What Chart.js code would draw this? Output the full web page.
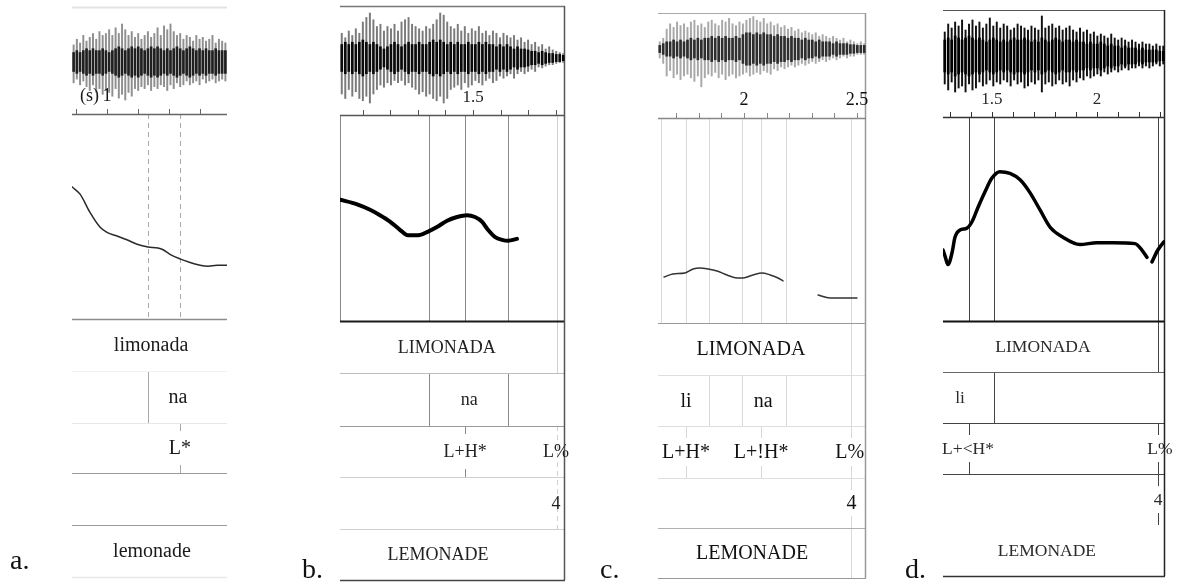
<!DOCTYPE html>
<html>
<head>
<meta charset="utf-8">
<script src="https://cdn.jsdelivr.net/npm/chart.js"></script>
<style>
  html, body { margin: 0; background: #fff; }
  #wrap { position: relative; width: 1180px; height: 586px; overflow: hidden; background: #fff; }
  #wrap canvas { position: absolute; left: 0; top: 0; }
</style>
</head>
<body>
<div id="wrap">
  <canvas id="pa" width="1180" height="586"></canvas>
  <canvas id="pb" width="1180" height="586"></canvas>
  <canvas id="pc" width="1180" height="586"></canvas>
  <canvas id="pd" width="1180" height="586"></canvas>
</div>
<script>
// ---- a. limonada (broad focus) ----
const aTicks = [0.9, 1.0, 1.1, 1.2, 1.3];
const aTickLabels = [[1.0, '1']];
const aWaveHi = [0.45,0.6,0.5,0.7,0.55,0.65,0.75,0.6,0.8,0.7,0.75,0.85,0.7,0.9,0.75,1.0,0.85,0.7,0.8,0.65,0.75,0.6,0.7,0.8,0.65,0.75,0.9,0.7,0.95,0.85,1.0,0.8,0.7,0.75,0.6,0.7,0.65,0.55,0.7,0.6,0.65,0.55,0.6,0.7,0.5,0.6,0.55,0.5];
const aWaveLo = [-0.55,-0.45,-0.6,-0.5,-0.65,-0.75,-0.6,-0.8,-0.7,-0.85,-0.75,-0.8,-0.9,-0.7,-0.95,-0.85,-1.0,-0.8,-0.9,-0.7,-0.75,-0.65,-0.7,-0.6,-0.75,-0.65,-0.7,-0.6,-0.65,-0.75,-0.6,-0.7,-0.55,-0.65,-0.6,-0.5,-0.6,-0.55,-0.5,-0.6,-0.45,-0.55,-0.5,-0.45,-0.55,-0.5,-0.45,-0.5];
const aWaveCore = [0.25,0.3,0.25,0.3,0.35,0.3,0.35,0.3,0.3,0.35,0.3,0.25,0.3,0.35,0.4,0.35,0.3,0.35,0.4,0.35,0.4,0.35,0.3,0.35,0.4,0.35,0.4,0.35,0.3,0.35,0.3,0.35,0.4,0.35,0.3,0.35,0.4,0.35,0.3,0.35,0.3,0.35,0.3,0.3,0.35,0.3,0.3,0.3];
const aF0Time = [0.887,0.913,0.945,0.977,1.0,1.032,1.064,1.097,1.132,1.164,1.181,1.203,1.235,1.268,1.300,1.326,1.355,1.387];
const aF0Hz = [220,212,192,176,170,166,162,157,154,153,151,146,141,137,134,133,134,134];
// [row, time, text]
const aLabels = [[0, 1.142, 'limonada'], [1, 1.229, 'na'], [2, 1.235, 'L*'], [4, 1.145, 'lemonade']];
// [fromRow, toRow, time, kind]  (row -1 = pitch area)
const aMarks = [[-1, -1, 1.132, 'dash'], [-1, -1, 1.235, 'dash'], [1, 1, 1.132, 'line'], [2, 2, 1.235, 'tick']];

// ---- b. LIMONADA (contrastive) ----
const bTicks = [1.1, 1.2, 1.3, 1.4, 1.5, 1.6, 1.7, 1.8];
const bTickLabels = [[1.5, '1.5']];
const bWaveHi = [0.55,0.45,0.6,0.5,0.65,0.55,0.8,0.9,1.0,0.85,0.7,0.75,0.6,0.7,0.65,0.75,0.6,0.8,0.85,0.9,0.75,0.7,0.65,0.6,0.7,0.65,0.75,0.85,1.0,0.95,0.8,0.7,0.65,0.75,0.6,0.7,0.55,0.65,0.6,0.7,0.55,0.6,0.5,0.6,0.55,0.45,0.55,0.5,0.45,0.5,0.4,0.45,0.35,0.4,0.3,0.35,0.25,0.3,0.2,0.25,0.18,0.15,0.12,0.1];
const bWaveLo = [-0.8,-0.9,-0.7,-0.85,-0.75,-0.9,-0.95,-0.85,-1.0,-0.8,-0.7,-0.6,-0.65,-0.55,-0.6,-0.5,-0.55,-0.5,-0.6,-0.55,-0.65,-0.7,-0.8,-0.75,-0.85,-0.8,-0.9,-0.95,-0.85,-1.0,-0.9,-0.7,-0.65,-0.6,-0.7,-0.55,-0.65,-0.6,-0.5,-0.55,-0.6,-0.5,-0.45,-0.55,-0.5,-0.4,-0.45,-0.4,-0.35,-0.45,-0.35,-0.3,-0.35,-0.3,-0.25,-0.3,-0.2,-0.22,-0.18,-0.15,-0.15,-0.12,-0.1,-0.1];
const bWaveCore = [0.3,0.35,0.3,0.35,0.3,0.35,0.4,0.35,0.3,0.35,0.3,0.25,0.2,0.25,0.3,0.35,0.3,0.25,0.3,0.35,0.3,0.3,0.35,0.3,0.3,0.35,0.4,0.35,0.4,0.35,0.3,0.35,0.3,0.35,0.3,0.3,0.35,0.3,0.3,0.35,0.3,0.35,0.3,0.3,0.25,0.3,0.25,0.3,0.25,0.2,0.25,0.2,0.2,0.18,0.15,0.15,0.12,0.15,0.12,0.1,0.1,0.08,0.08,0.06];
const bF0Time = [1.018,1.080,1.127,1.163,1.199,1.235,1.264,1.301,1.337,1.369,1.406,1.442,1.478,1.507,1.532,1.554,1.580,1.605,1.627,1.659];
const bF0Hz = [207,202,196,190,183,174,168,168,172,177,184,188,190,188,183,174,166,163,162,164];
const bLabels = [[0, 1.405, 'LIMONADA'], [1, 1.486, 'na'], [2, 1.471, 'L+H*'], [2, 1.800, 'L%'], [3, 1.800, '4'], [4, 1.373, 'LEMONADE']];
const bMarks = [[-1, -1, 1.340, 'line'], [-1, -1, 1.471, 'line'], [-1, -1, 1.627, 'line'], [-1, 0, 1.804, 'faint'],
                [1, 1, 1.340, 'line'], [1, 1, 1.627, 'line'], [2, 2, 1.471, 'tick'], [2, 3, 1.804, 'fdash']];

// ---- c. LIMONADA (two accents) ----
const cTicks = [1.7, 1.8, 1.9, 2.0, 2.1, 2.2, 2.3, 2.4, 2.5];
const cTickLabels = [[2.0, '2'], [2.5, '2.5']];
const cWaveHi = [0.2,0.3,0.55,0.7,0.6,0.75,0.65,0.7,0.6,0.75,0.8,0.65,0.7,0.6,0.75,0.8,0.7,0.65,0.8,0.75,0.85,0.7,0.65,0.75,0.7,0.8,0.85,0.9,0.8,0.75,0.85,0.7,0.75,0.65,0.7,0.6,0.65,0.55,0.6,0.5,0.55,0.45,0.5,0.45,0.4,0.45,0.35,0.4,0.35,0.3,0.35,0.3,0.25,0.3,0.2,0.25,0.2,0.15,0.2,0.15];
const cWaveLo = [-0.25,-0.4,-0.75,-0.6,-0.8,-0.7,-0.85,-0.75,-0.7,-0.8,-0.9,-0.75,-1.05,-0.8,-0.7,-0.75,-0.65,-0.8,-0.7,-0.85,-0.75,-0.7,-0.8,-0.75,-0.7,-0.65,-0.75,-0.7,-0.65,-0.7,-0.6,-0.65,-0.7,-0.55,-0.6,-0.5,-0.55,-0.5,-0.45,-0.5,-0.45,-0.4,-0.45,-0.4,-0.35,-0.4,-0.35,-0.3,-0.35,-0.3,-0.25,-0.3,-0.25,-0.2,-0.25,-0.2,-0.2,-0.15,-0.15,-0.15];
const cWaveCore = [0.1,0.15,0.2,0.2,0.25,0.2,0.25,0.2,0.25,0.3,0.25,0.3,0.25,0.3,0.3,0.35,0.3,0.35,0.3,0.35,0.3,0.3,0.35,0.3,0.4,0.45,0.45,0.4,0.45,0.4,0.45,0.4,0.4,0.35,0.4,0.35,0.35,0.3,0.35,0.3,0.3,0.25,0.3,0.25,0.25,0.2,0.25,0.2,0.2,0.2,0.15,0.2,0.15,0.15,0.15,0.12,0.12,0.1,0.1,0.1];
const cF0Time = [1.647,1.686,1.739,1.775,1.806,1.841,1.881,1.925,1.970,1.996,2.040,2.080,2.116,2.151,2.173,2.250,2.328,2.381,2.439,2.500];
const cF0Hz = [125.5,128.8,129.9,134.3,135.4,134.3,132.1,127.7,124.4,124.4,127.7,129.9,127.7,124.4,121.1,null,105.7,102.4,102.4,102.4];
const cLabels = [[0, 2.031, 'LIMONADA'], [1, 1.744, 'li'], [1, 2.085, 'na'], [2, 1.744, 'L+H*'], [2, 2.076, 'L+!H*'],
                 [2, 2.468, 'L%'], [3, 2.476, '4'], [4, 2.036, 'LEMONADE']];
const cMarks = [[-1, -1, 1.633, 'faint'], [-1, -1, 1.744, 'faint'], [-1, -1, 1.846, 'faint'], [-1, -1, 1.992, 'faint'],
                [-1, -1, 2.076, 'faint'], [-1, -1, 2.186, 'faint'], [-1, 1, 2.474, 'faint'], [2, 3, 2.474, 'ftick'], [4, 4, 2.474, 'faint'],
                [1, 1, 1.846, 'faint'], [1, 1, 1.992, 'faint'], [1, 1, 2.186, 'faint'], [2, 2, 1.744, 'ftick'], [2, 2, 2.076, 'ftick']];

// ---- d. LIMONADA (early peak) ----
const dTicks = [1.3, 1.4, 1.5, 1.6, 1.7, 1.8, 1.9, 2.0, 2.1, 2.2, 2.3];
const dTickLabels = [[1.5, '1.5'], [2.0, '2']];
const dWaveHi = [0.6,0.8,0.7,0.85,0.75,0.9,0.65,0.8,0.9,0.75,0.85,0.7,0.8,0.95,0.75,0.85,0.7,0.8,0.75,0.65,0.7,0.8,0.75,0.7,0.65,0.75,0.7,0.65,1.0,0.7,0.75,0.8,0.7,0.75,0.65,0.7,0.75,0.65,0.6,0.7,0.6,0.65,0.55,0.6,0.5,0.55,0.5,0.45,0.55,0.45,0.4,0.45,0.4,0.35,0.4,0.35,0.3,0.35,0.3,0.3,0.25,0.3,0.25,0.25];
const dWaveLo = [-0.7,-0.85,-0.65,-0.9,-0.8,-0.75,-0.9,-0.7,-0.85,-0.8,-0.65,-0.75,-0.7,-0.6,-0.75,-0.65,-0.7,-0.6,-0.65,-0.75,-0.6,-0.7,-0.65,-0.8,-0.75,-0.65,-0.7,-0.6,-0.9,-0.7,-0.65,-0.75,-0.7,-0.6,-0.7,-0.65,-0.75,-0.6,-0.65,-0.55,-0.6,-0.5,-0.55,-0.5,-0.45,-0.5,-0.4,-0.45,-0.4,-0.35,-0.4,-0.35,-0.3,-0.35,-0.3,-0.3,-0.25,-0.3,-0.25,-0.3,-0.25,-0.2,-0.25,-0.2];
const dWaveCore = [0.4,0.45,0.4,0.5,0.45,0.4,0.45,0.5,0.45,0.4,0.45,0.4,0.35,0.4,0.45,0.4,0.35,0.4,0.35,0.4,0.45,0.4,0.4,0.45,0.4,0.35,0.4,0.35,0.45,0.4,0.35,0.4,0.45,0.4,0.35,0.4,0.4,0.35,0.4,0.35,0.35,0.3,0.35,0.3,0.3,0.35,0.3,0.25,0.3,0.25,0.25,0.2,0.25,0.2,0.2,0.2,0.15,0.2,0.15,0.15,0.15,0.15,0.12,0.12];
const dF0Time = [1.267,1.277,1.286,1.291,1.310,1.324,1.348,1.381,1.405,1.434,1.467,1.500,1.538,1.586,1.634,1.681,1.729,1.777,1.838,1.919,2.000,2.077,2.181,2.214,2.238,2.250,2.262,2.290,2.319];
const dF0Hz = [154,147,140,138,151,168,176,178,185,201,218,233,240,238,231,217,198,179,168,160,162,162,161,154,146,null,141,154,163];
const dLabels = [[0, 1.743, 'LIMONADA'], [1, 1.348, 'li'], [2, 1.386, 'L+<H*'], [2, 2.300, 'L%'], [3, 2.291, '4'], [4, 1.762, 'LEMONADE']];
const dMarks = [[-1, 0, 2.291, 'line'], [-1, -1, 1.391, 'line'], [-1, -1, 1.510, 'line'], [1, 1, 1.510, 'line'],
                [2, 2, 1.391, 'tick'], [2, 3, 2.291, 'tick']];

// pitch scale shared by all panels: 300 Hz sits on the time axis line
const F0_REF_HZ = 300;
const PX_PER_HZ = 0.911;
const SERIF = '"Liberation Serif", "DejaVu Serif", serif';

const panels = [
  { id: 'pa', letter: 'a.', letterAt: [10, 569], range: [0.887, 1.387], box: [72, 7, 227], axisY: 114,
    rows: [319, 371, 423, 473, 525, 577], waveMid: 62, waveHalf: 38, unit: '(s)',
    ticks: aTicks, tickLabels: aTickLabels, waveHi: aWaveHi, waveLo: aWaveLo, waveCore: aWaveCore,
    f0Time: aF0Time, f0Hz: aF0Hz, labels: aLabels, marks: aMarks,
    style: { wave: '#8f8f8f', core: '#202020', f0: '#2a2a2a', f0Width: 1.5, axis: '#666', topLine: '#e4e4e4', topWidth: 2,
             rightLine: null, boxLeft: null, line: '#a8a8a8', faint: '#e0e0e0',
             rowLines: ['#8c8c8c', '#f2f2f2', '#e8e8e8', '#9a9a9a', '#9a9a9a', '#e8e8e8'], rowWidths: [1.5, 1, 1, 1.2, 1.2, 1.5],
             tickLen: 8, font: 20, axisFont: 18, ink: '#1a1a1a' } },
  { id: 'pb', letter: 'b.', letterAt: [302, 578], range: [1.018, 1.833], box: [340, 6, 565], axisY: 115,
    rows: [321, 373, 426, 477, 529, 580], waveMid: 58, waveHalf: 45,
    ticks: bTicks, tickLabels: bTickLabels, waveHi: bWaveHi, waveLo: bWaveLo, waveCore: bWaveCore,
    f0Time: bF0Time, f0Hz: bF0Hz, labels: bLabels, marks: bMarks,
    style: { wave: '#7a7a7a', core: '#0a0a0a', f0: '#000', f0Width: 4, axis: '#555', topLine: '#777', topWidth: 1.5,
             rightLine: '#555', boxLeft: '#888', line: '#8a8a8a', faint: '#d0d0d0',
             rowLines: ['#1a1a1a', '#bdbdbd', '#9a9a9a', '#cfcfcf', '#cfcfcf', '#444'], rowWidths: [2, 1, 1.2, 1, 1, 1.5],
             tickLen: 8, font: 18, axisFont: 17, ink: '#222' } },
  { id: 'pc', letter: 'c.', letterAt: [600, 578], range: [1.62, 2.54], box: [658, 13, 866], axisY: 118,
    rows: [323, 375, 426, 478, 528, 578], waveMid: 49, waveHalf: 36,
    ticks: cTicks, tickLabels: cTickLabels, waveHi: cWaveHi, waveLo: cWaveLo, waveCore: cWaveCore,
    f0Time: cF0Time, f0Hz: cF0Hz, labels: cLabels, marks: cMarks,
    style: { wave: '#a8a8a8', core: '#2e2e2e', f0: '#333', f0Width: 1.5, axis: '#888', topLine: '#aaa', topWidth: 1.2,
             rightLine: '#999', boxLeft: null, line: '#bbb', faint: '#d8d8d8',
             rowLines: ['#9a9a9a', '#dedede', '#dedede', '#dedede', '#b0b0b0', '#9a9a9a'], rowWidths: [1.2, 1, 1, 1, 1.2, 1.2],
             tickLen: 12, font: 20, axisFont: 18, ink: '#111' } },
  { id: 'pd', letter: 'd.', letterAt: [905, 578], range: [1.267, 2.324], box: [943, 10, 1165], axisY: 117,
    rows: [321, 372, 423, 474, 525, 576], waveMid: 56, waveHalf: 40,
    ticks: dTicks, tickLabels: dTickLabels, waveHi: dWaveHi, waveLo: dWaveLo, waveCore: dWaveCore,
    f0Time: dF0Time, f0Hz: dF0Hz, labels: dLabels, marks: dMarks,
    style: { wave: '#111', core: '#000', f0: '#000', f0Width: 3.5, axis: '#333', topLine: '#555', topWidth: 1.2,
             rightLine: '#222', boxLeft: null, line: '#444', faint: '#888',
             rowLines: ['#111', '#666', '#444', '#444', null, '#333'], rowWidths: [2, 1, 1.2, 1.2, 0, 1.5],
             tickLen: 12, font: 17.5, axisFont: 17, ink: '#2a2a2a' } }
];

const KINDS = {
  line:  { c: 'line' },
  faint: { c: 'faint' },
  dash:  { c: 'line', dash: [5, 4] },
  fdash: { c: 'faint', dash: [5, 4] },
  tick:  { c: 'line', tick: true },
  ftick: { c: 'faint', tick: true }
};

function fitRange(refValue, refPx, pxPerUnit, top, bottom) {
  return { min: refValue - (bottom - refPx) / pxPerUnit, max: refValue + (refPx - top) / pxPerUnit };
}

function hline(ctx, x1, x2, y, color, w, dash) {
  ctx.beginPath();
  ctx.strokeStyle = color;
  ctx.lineWidth = w;
  ctx.setLineDash(dash || []);
  ctx.moveTo(x1, Math.round(y) + 0.5);
  ctx.lineTo(x2, Math.round(y) + 0.5);
  ctx.stroke();
}

function vline(ctx, x, y1, y2, color, w, dash) {
  ctx.beginPath();
  ctx.strokeStyle = color;
  ctx.lineWidth = w;
  ctx.setLineDash(dash || []);
  ctx.moveTo(Math.round(x) + 0.5, y1);
  ctx.lineTo(Math.round(x) + 0.5, y2);
  ctx.stroke();
}

// frame, time axis, tier grid and tier text for one panel
function decor(p) {
  const s = p.style;
  const span = r => r < 0 ? [p.axisY, p.rows[0]] : [p.rows[r], p.rows[r + 1]];
  return {
    id: 'decor',
    beforeDatasetsDraw(chart) {
      const ctx = chart.ctx, a = chart.chartArea, xs = chart.scales.x;
      ctx.save();
      if (s.topLine) hline(ctx, a.left, a.right, a.top, s.topLine, s.topWidth);
      if (s.boxLeft) vline(ctx, a.left, p.axisY, p.rows[0], s.boxLeft, 1);

      p.marks.forEach(([r0, r1, t, kind]) => {
        const k = KINDS[kind];
        const x = xs.getPixelForValue(t);
        const color = s[k.c];
        if (k.tick) {
          for (let r = r0; r <= r1; r++) {
            const [y1, y2] = span(r);
            vline(ctx, x, y1, y1 + s.tickLen, color, 1);
            vline(ctx, x, y2 - s.tickLen, y2, color, 1);
          }
        } else {
          vline(ctx, x, span(r0)[0], span(r1)[1], color, 1, k.dash);
        }
      });

      p.rows.forEach((y, i) => {
        if (s.rowLines[i]) hline(ctx, a.left, a.right, y, s.rowLines[i], s.rowWidths[i]);
      });
      if (s.rightLine) vline(ctx, a.right - 1, a.top, a.bottom, s.rightLine, 1.5);

      // time axis with upward ticks
      hline(ctx, a.left, a.right, p.axisY, s.axis, 1.5);
      p.ticks.forEach(t => vline(ctx, xs.getPixelForValue(t), p.axisY - 5, p.axisY, s.axis, 1));
      ctx.restore();
    },
    afterDatasetsDraw(chart) {
      const ctx = chart.ctx, xs = chart.scales.x;
      ctx.save();
      ctx.fillStyle = s.ink;
      ctx.textBaseline = 'alphabetic';
      ctx.font = s.axisFont + 'px ' + SERIF;
      ctx.textAlign = 'center';
      p.tickLabels.forEach(([t, txt]) => ctx.fillText(txt, xs.getPixelForValue(t), p.axisY - 13));
      if (p.unit) {
        ctx.textAlign = 'right';
        ctx.fillText(p.unit, xs.getPixelForValue(p.tickLabels[0][0]) - 8, p.axisY - 13);
      }

      ctx.font = s.font + 'px ' + SERIF;
      ctx.textAlign = 'center';
      ctx.textBaseline = 'middle';
      p.labels.forEach(([r, t, txt]) => {
        const [y1, y2] = span(r);
        ctx.fillText(txt, xs.getPixelForValue(t), (y1 + y2) / 2 + 1);
      });

      ctx.font = '28px ' + SERIF;
      ctx.fillStyle = '#111';
      ctx.textAlign = 'left';
      ctx.textBaseline = 'alphabetic';
      ctx.fillText(p.letter, p.letterAt[0], p.letterAt[1]);
      ctx.restore();
    }
  };
}

function drawPanel(p) {
  const top = p.box[1];
  const bottom = p.rows[p.rows.length - 1];
  const wave = fitRange(0, p.waveMid, p.waveHalf, top, bottom);
  const f0 = fitRange(F0_REF_HZ, p.axisY, PX_PER_HZ, top, bottom);
  const s = p.style;

  new Chart(document.getElementById(p.id), {
    type: 'line',
    data: {
      labels: p.waveHi.map((_, i) => i),
      datasets: [
        {
          type: 'bar', xAxisID: 'xw', yAxisID: 'yw', order: 3, grouped: false,
          data: p.waveHi.map((h, i) => [p.waveLo[i], h]),
          backgroundColor: s.wave, borderWidth: 0, barThickness: 1.3
        },
        {
          type: 'bar', xAxisID: 'xw', yAxisID: 'yw', order: 2, grouped: false,
          data: p.waveCore.map(c => [-c, c]),
          backgroundColor: s.core, borderWidth: 0, barThickness: 2
        },
        {
          type: 'line', xAxisID: 'x', yAxisID: 'y', order: 1,
          data: p.f0Time.map((t, i) => ({ x: t, y: p.f0Hz[i] })),
          borderColor: s.f0, borderWidth: s.f0Width, pointRadius: 0, fill: false,
          cubicInterpolationMode: 'monotone', spanGaps: false,
          borderCapStyle: 'round', borderJoinStyle: 'round'
        }
      ]
    },
    options: {
      responsive: false,
      animation: false,
      events: [],
      layout: { padding: { left: p.box[0], top: top, right: 1180 - p.box[2], bottom: 586 - bottom } },
      plugins: { legend: { display: false }, tooltip: { enabled: false } },
      scales: {
        x: { type: 'linear', min: p.range[0], max: p.range[1], display: false },
        xw: { type: 'category', offset: true, display: false },
        yw: { type: 'linear', min: wave.min, max: wave.max, display: false },
        y: { type: 'linear', min: f0.min, max: f0.max, display: false }
      }
    },
    plugins: [decor(p)]
  });
}

panels.forEach(drawPanel);
</script>
</body>
</html>
